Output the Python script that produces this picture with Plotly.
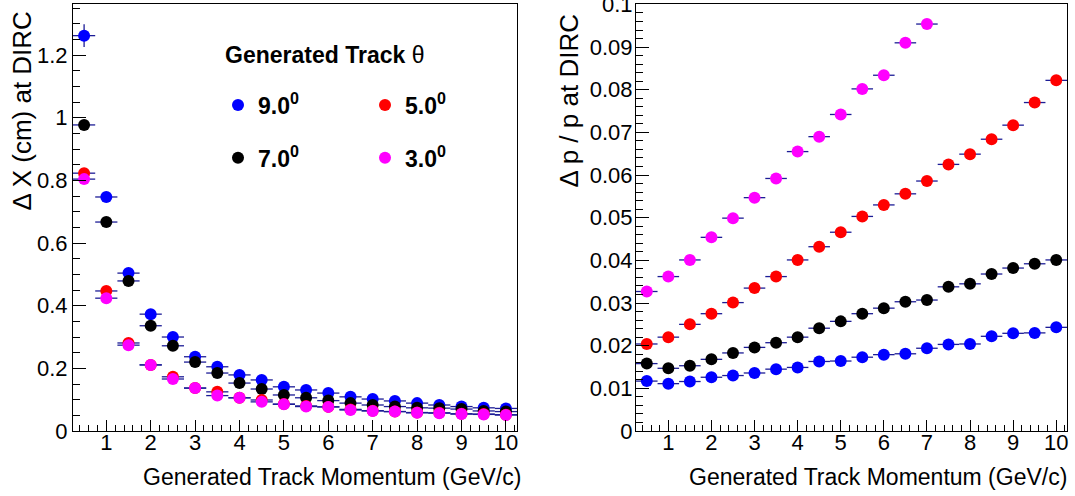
import plotly.graph_objects as go

# ---------------- data ----------------
momentum = [0.5, 1.0, 1.5, 2.0, 2.5, 3.0, 3.5, 4.0, 4.5, 5.0,
            5.5, 6.0, 6.5, 7.0, 7.5, 8.0, 8.5, 9.0, 9.5, 10.0]
bin_half_width = [0.25] * 20

# Left panel: Delta X (cm) at DIRC
dx_9deg = [1.262, 0.747, 0.504, 0.373, 0.300, 0.237, 0.205, 0.179, 0.163, 0.141,
           0.131, 0.121, 0.109, 0.102, 0.096, 0.089, 0.083, 0.078, 0.074, 0.072]
dx_7deg = [0.977, 0.667, 0.479, 0.336, 0.272, 0.220, 0.185, 0.153, 0.134, 0.115,
           0.106, 0.097, 0.089, 0.083, 0.078, 0.074, 0.073, 0.070, 0.064, 0.062]
dx_5deg = [0.823, 0.447, 0.281, 0.211, 0.173, 0.137, 0.125, 0.106, 0.099, 0.086,
           0.080, 0.077, 0.069, 0.065, 0.062, 0.059, 0.058, 0.055, 0.054, 0.052]
dx_3deg = [0.804, 0.424, 0.274, 0.211, 0.166, 0.137, 0.113, 0.106, 0.093, 0.085,
           0.078, 0.077, 0.067, 0.064, 0.062, 0.058, 0.057, 0.054, 0.053, 0.051]
dx_9deg_err = [0.036, 0.012, 0.010, 0.008, 0.006, 0.005, 0.004, 0.004, 0.003, 0.003,
               0.003, 0.003, 0.002, 0.002, 0.002, 0.002, 0.002, 0.002, 0.002, 0.002]
dx_7deg_err = [0.012, 0.008, 0.006, 0.005, 0.004, 0.004, 0.003, 0.003, 0.003, 0.002,
               0.002, 0.002, 0.002, 0.002, 0.002, 0.002, 0.002, 0.002, 0.002, 0.002]
dx_5deg_err = [0.010, 0.006, 0.004, 0.003, 0.003, 0.002, 0.002, 0.002, 0.002, 0.002,
               0.002, 0.002, 0.002, 0.002, 0.002, 0.002, 0.002, 0.002, 0.002, 0.002]
dx_3deg_err = [0.010, 0.006, 0.004, 0.003, 0.003, 0.002, 0.002, 0.002, 0.002, 0.002,
               0.002, 0.002, 0.002, 0.002, 0.002, 0.002, 0.002, 0.002, 0.002, 0.002]

# Right panel: Delta p / p at DIRC
dp_9deg = [0.0117, 0.0111, 0.0116, 0.0126, 0.0130, 0.0136, 0.0145, 0.0149, 0.0163, 0.0164,
           0.0173, 0.0179, 0.0181, 0.0194, 0.0203, 0.0204, 0.0222, 0.0229, 0.0230, 0.0243]
dp_7deg = [0.0158, 0.0147, 0.0153, 0.0168, 0.0183, 0.0196, 0.0207, 0.0220, 0.0241, 0.0257,
           0.0275, 0.0288, 0.0303, 0.0307, 0.0338, 0.0345, 0.0368, 0.0382, 0.0392, 0.0401]
dp_5deg = [0.0204, 0.0220, 0.0250, 0.0275, 0.0301, 0.0335, 0.0362, 0.0401, 0.0432, 0.0466,
           0.0503, 0.0530, 0.0556, 0.0586, 0.0625, 0.0649, 0.0684, 0.0717, 0.0770, 0.0822]
dp_3deg = [0.0327, 0.0362, 0.0401, 0.0454, 0.0499, 0.0547, 0.0592, 0.0655, 0.0690, 0.0742,
           0.0802, 0.0834, 0.0910, 0.0954]
dp_err = [0.0003] * 20

series_names = ["<b>9.0<sup>0</sup></b>", "<b>7.0<sup>0</sup></b>",
                "<b>5.0<sup>0</sup></b>", "<b>3.0<sup>0</sup></b>"]
series_colors = ["#0000ff", "#000000", "#ff0000", "#ff00ff"]
series_legends = ["legend", "legend", "legend2", "legend2"]

x_tick_values = [1, 2, 3, 4, 5, 6, 7, 8, 9, 10]

# ---------------- style ----------------
FONT = "Liberation Sans, Arial, Helvetica, sans-serif"
ERR_COLOR = "#1c1c96"

fig = go.Figure()

left_sets = [(dx_9deg, dx_9deg_err), (dx_7deg, dx_7deg_err),
             (dx_5deg, dx_5deg_err), (dx_3deg, dx_3deg_err)]
for i, (vals, errs) in enumerate(left_sets):
    fig.add_trace(go.Scatter(
        x=momentum[:len(vals)], y=vals, mode="markers",
        name=series_names[i], legend=series_legends[i], legendgroup="g%d" % i,
        marker=dict(color=series_colors[i], size=12, line=dict(width=0)),
        error_x=dict(type="data", array=bin_half_width[:len(vals)], color=ERR_COLOR,
                     thickness=1.3, width=0),
        error_y=dict(type="data", array=errs[:len(vals)], color=ERR_COLOR,
                     thickness=1.3, width=0),
        xaxis="x", yaxis="y", showlegend=True,
    ))

right_sets = [dp_9deg, dp_7deg, dp_5deg, dp_3deg]
for i, vals in enumerate(right_sets):
    fig.add_trace(go.Scatter(
        x=momentum[:len(vals)], y=vals, mode="markers",
        name=series_names[i], legendgroup="g%d" % i,
        marker=dict(color=series_colors[i], size=12, line=dict(width=0)),
        error_x=dict(type="data", array=bin_half_width[:len(vals)], color=ERR_COLOR,
                     thickness=1.3, width=0),
        error_y=dict(type="data", array=dp_err[:len(vals)], color=ERR_COLOR,
                     thickness=1.3, width=0),
        xaxis="x2", yaxis="y2", showlegend=False,
    ))

ydom = [65 / 496, 492 / 496]


def xaxis_style(domain, anchor):
    return dict(
        domain=domain, anchor=anchor, range=[0.25, 10.25], automargin=False,
        tickmode="array", tickvals=x_tick_values,
        ticks="inside", ticklen=11, tickwidth=1, tickcolor="black",
        ticklabelstandoff=-8,
        minor=dict(ticks="inside", ticklen=6, dtick=0.2, tick0=0, tickcolor="black", tickwidth=1),
        showline=True, mirror=True, linecolor="black", linewidth=1,
        showgrid=False, zeroline=False,
        tickfont=dict(family=FONT, size=22, color="black"),
    )


def yaxis_style(anchor, rng, dtick, mdtick, standoff):
    return dict(
        domain=ydom, anchor=anchor, range=rng, dtick=dtick, tick0=0, automargin=False,
        ticks="inside", ticklen=13, tickwidth=1, tickcolor="black",
        ticklabelstandoff=standoff, ticklabeloverflow="allow",
        minor=dict(ticks="inside", ticklen=7, dtick=mdtick, tick0=0, tickcolor="black", tickwidth=1),
        showline=True, mirror=True, linecolor="black", linewidth=1,
        showgrid=False, zeroline=False,
        tickfont=dict(family=FONT, size=22, color="black"),
    )


legend_common = dict(
    bgcolor="rgba(0,0,0,0)", borderwidth=0, orientation="v",
    font=dict(family=FONT, size=23, color="black"),
    tracegroupgap=20, itemclick=False, itemdoubleclick=False,
    xanchor="left", yanchor="middle",
)

fig.update_layout(
    width=1075, height=496,
    margin=dict(l=0, r=0, t=0, b=0, autoexpand=False),
    paper_bgcolor="white", plot_bgcolor="white",
    font=dict(family=FONT, color="black"),
    xaxis=xaxis_style([73 / 1075, 517 / 1075], "y"),
    yaxis=yaxis_style("x", [0, 1.363], 0.2, 0.05, 0),
    xaxis2=xaxis_style([636 / 1075, 1067 / 1075], "y2"),
    yaxis2=yaxis_style("x2", [0, 0.1001], 0.01, 0.002, -2),
    legend=dict(x=218 / 1075, y=(496 - 131.5) / 496, **legend_common),
    legend2=dict(x=365 / 1075, y=(496 - 131.5) / 496, **legend_common),
    showlegend=True,
)

ann_font = dict(family=FONT, size=23, color="black")
ytitle_font = dict(family=FONT, size=26, color="black")
fig.add_annotation(text="<b>Generated Track </b>θ", xref="paper", yref="paper",
                   x=223 / 1075, y=(496 - 55) / 496, xanchor="left", yanchor="middle",
                   showarrow=False, font=ann_font)
fig.add_annotation(text="Generated Track Momentum (GeV/c)", xref="paper", yref="paper",
                   x=523 / 1075, y=(496 - 477) / 496, xanchor="right", yanchor="middle",
                   showarrow=False, font=ann_font)
fig.add_annotation(text="Generated Track Momentum (GeV/c)", xref="paper", yref="paper",
                   x=1069 / 1075, y=(496 - 477) / 496, xanchor="right", yanchor="middle",
                   showarrow=False, font=ann_font)
fig.add_annotation(text="Δ X (cm) at DIRC", xref="paper", yref="paper",
                   x=22 / 1075, y=(496 - 10) / 496, xanchor="center", yanchor="top",
                   textangle=-90, showarrow=False, font=ytitle_font)
fig.add_annotation(text="Δ p / p at DIRC", xref="paper", yref="paper",
                   x=568 / 1075, y=(496 - 13) / 496, xanchor="center", yanchor="top",
                   textangle=-90, showarrow=False, font=ytitle_font)

fig.write_html(
    "out.html",
    config={"displayModeBar": False},
    post_script="document.body.style.margin='0';document.body.style.overflow='hidden';",
)
